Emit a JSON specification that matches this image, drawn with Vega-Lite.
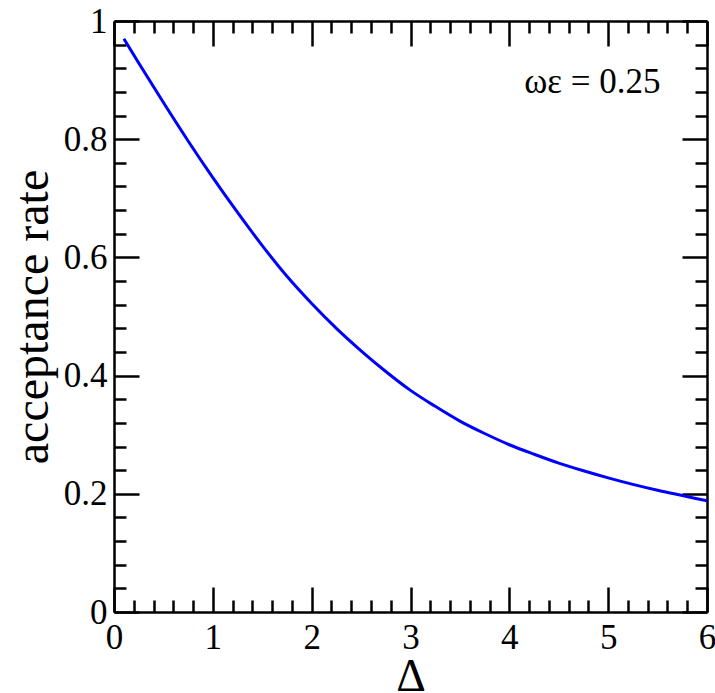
{
  "$schema": "https://vega.github.io/schema/vega-lite/v6.json",
  "autosize": "none",
  "width": 593,
  "height": 591,
  "padding": {"left": 114, "top": 21, "right": 8, "bottom": 81},
  "background": "white",
  "config": {
    "font": "Liberation Serif, serif",
    "view": {"stroke": null},
    "text": {"font": "Liberation Serif, serif"},
    "axis": {
      "labelFont": "Liberation Serif, serif",
      "titleFont": "Liberation Serif, serif",
      "labelColor": "black",
      "titleColor": "black",
      "domainColor": "black",
      "tickColor": "black",
      "domainWidth": 2.5,
      "tickWidth": 2.5,
      "grid": false,
      "labelFlush": false,
      "labelOverlap": false
    }
  },
  "datasets": {
    "curve": [
      {"delta": 0.1, "rate": 0.97},
      {"delta": 0.25, "rate": 0.929},
      {"delta": 0.5, "rate": 0.862},
      {"delta": 0.75, "rate": 0.797},
      {"delta": 1.0, "rate": 0.735},
      {"delta": 1.25, "rate": 0.676},
      {"delta": 1.5, "rate": 0.62},
      {"delta": 1.75, "rate": 0.568},
      {"delta": 2.0, "rate": 0.522},
      {"delta": 2.25, "rate": 0.48},
      {"delta": 2.5, "rate": 0.442},
      {"delta": 2.75, "rate": 0.407},
      {"delta": 3.0, "rate": 0.375},
      {"delta": 3.25, "rate": 0.348},
      {"delta": 3.5, "rate": 0.323},
      {"delta": 3.75, "rate": 0.302},
      {"delta": 4.0, "rate": 0.283},
      {"delta": 4.25, "rate": 0.267},
      {"delta": 4.5, "rate": 0.252},
      {"delta": 4.75, "rate": 0.239},
      {"delta": 5.0, "rate": 0.227},
      {"delta": 5.25, "rate": 0.216},
      {"delta": 5.5, "rate": 0.206},
      {"delta": 5.75, "rate": 0.197},
      {"delta": 6.0, "rate": 0.188}
    ],
    "note": [
      {"delta": 5.53, "rate": 0.878, "label": "ωε = 0.25"}
    ]
  },
  "resolve": {"axis": {"x": "independent", "y": "independent"}},
  "layer": [
    {
      "data": {"name": "curve"},
      "mark": {"type": "line", "strokeOpacity": 0},
      "encoding": {
        "x": {"field": "delta", "type": "quantitative",
          "scale": {"domain": [0, 6], "nice": false, "zero": false},
          "axis": {"orient": "bottom", "title": "Δ", "titleFontSize": 46, "titleFontWeight": "normal",
            "titleBaseline": "alphabetic", "titleY": 78,
            "values": [0, 1, 2, 3, 4, 5, 6], "format": "~g", "ticks": false, "domain": true, "labelFontSize": 35, "labelPadding": 8}},
        "y": {"field": "rate", "type": "quantitative",
          "scale": {"domain": [0, 1], "nice": false, "zero": false},
          "axis": {"orient": "left", "title": "acceptance rate", "titleFontSize": 48, "titleFontWeight": "normal", "titlePadding": 6,
            "values": [0, 0.2, 0.4, 0.6, 0.8, 1], "format": "~g", "ticks": false, "domain": true, "labelFontSize": 35, "labelPadding": 7}}
      }
    },
    {
      "data": {"name": "curve"},
      "mark": {"type": "line", "strokeOpacity": 0},
      "encoding": {
        "x": {"field": "delta", "type": "quantitative",
          "scale": {"domain": [0, 6], "nice": false, "zero": false},
          "axis": {"orient": "bottom", "title": null, "labels": false, "domain": false,
            "values": [0, 1, 2, 3, 4, 5, 6], "tickSize": -25}},
        "y": {"field": "rate", "type": "quantitative",
          "scale": {"domain": [0, 1], "nice": false, "zero": false},
          "axis": {"orient": "left", "title": null, "labels": false, "domain": false,
            "values": [0, 0.2, 0.4, 0.6, 0.8, 1], "tickSize": -25}}
      }
    },
    {
      "data": {"name": "curve"},
      "mark": {"type": "line", "strokeOpacity": 0},
      "encoding": {
        "x": {"field": "delta", "type": "quantitative",
          "scale": {"domain": [0, 6], "nice": false, "zero": false},
          "axis": {"orient": "bottom", "title": null, "labels": false, "domain": false,
            "values": [0.2, 0.4, 0.6, 0.8, 1.2, 1.4, 1.6, 1.8, 2.2, 2.4, 2.6, 2.8, 3.2, 3.4, 3.6, 3.8, 4.2, 4.4, 4.6, 4.8, 5.2, 5.4, 5.6, 5.8], "tickSize": -12}},
        "y": {"field": "rate", "type": "quantitative",
          "scale": {"domain": [0, 1], "nice": false, "zero": false},
          "axis": {"orient": "left", "title": null, "labels": false, "domain": false,
            "values": [0.04, 0.08, 0.12, 0.16, 0.24, 0.28, 0.32, 0.36, 0.44, 0.48, 0.52, 0.56, 0.64, 0.68, 0.72, 0.76, 0.84, 0.88, 0.92, 0.96], "tickSize": -12}}
      }
    },
    {
      "data": {"name": "curve"},
      "mark": {"type": "line", "strokeOpacity": 0},
      "encoding": {
        "x": {"field": "delta", "type": "quantitative",
          "scale": {"domain": [0, 6], "nice": false, "zero": false},
          "axis": {"orient": "top", "title": null, "labels": false, "domain": true,
            "values": [0, 1, 2, 3, 4, 5, 6], "tickSize": -25}},
        "y": {"field": "rate", "type": "quantitative",
          "scale": {"domain": [0, 1], "nice": false, "zero": false},
          "axis": {"orient": "right", "title": null, "labels": false, "domain": true,
            "values": [0, 0.2, 0.4, 0.6, 0.8, 1], "tickSize": -25}}
      }
    },
    {
      "data": {"name": "curve"},
      "mark": {"type": "line", "strokeOpacity": 0},
      "encoding": {
        "x": {"field": "delta", "type": "quantitative",
          "scale": {"domain": [0, 6], "nice": false, "zero": false},
          "axis": {"orient": "top", "title": null, "labels": false, "domain": false,
            "values": [0.2, 0.4, 0.6, 0.8, 1.2, 1.4, 1.6, 1.8, 2.2, 2.4, 2.6, 2.8, 3.2, 3.4, 3.6, 3.8, 4.2, 4.4, 4.6, 4.8, 5.2, 5.4, 5.6, 5.8], "tickSize": -12}},
        "y": {"field": "rate", "type": "quantitative",
          "scale": {"domain": [0, 1], "nice": false, "zero": false},
          "axis": {"orient": "right", "title": null, "labels": false, "domain": false,
            "values": [0.04, 0.08, 0.12, 0.16, 0.24, 0.28, 0.32, 0.36, 0.44, 0.48, 0.52, 0.56, 0.64, 0.68, 0.72, 0.76, 0.84, 0.88, 0.92, 0.96], "tickSize": -12}}
      }
    },
    {
      "data": {"name": "curve"},
      "mark": {"type": "line", "color": "#0000ff", "strokeWidth": 3, "interpolate": "monotone", "clip": true},
      "encoding": {
        "x": {"field": "delta", "type": "quantitative", "scale": {"domain": [0, 6], "nice": false, "zero": false}, "axis": null},
        "y": {"field": "rate", "type": "quantitative", "scale": {"domain": [0, 1], "nice": false, "zero": false}, "axis": null}
      }
    },
    {
      "data": {"name": "note"},
      "mark": {"type": "text", "align": "right", "baseline": "alphabetic", "font": "Liberation Serif, serif", "fontSize": 35, "color": "black"},
      "encoding": {
        "x": {"field": "delta", "type": "quantitative", "scale": {"domain": [0, 6], "nice": false, "zero": false}, "axis": null},
        "y": {"field": "rate", "type": "quantitative", "scale": {"domain": [0, 1], "nice": false, "zero": false}, "axis": null},
        "text": {"field": "label"}
      }
    }
  ]
}
